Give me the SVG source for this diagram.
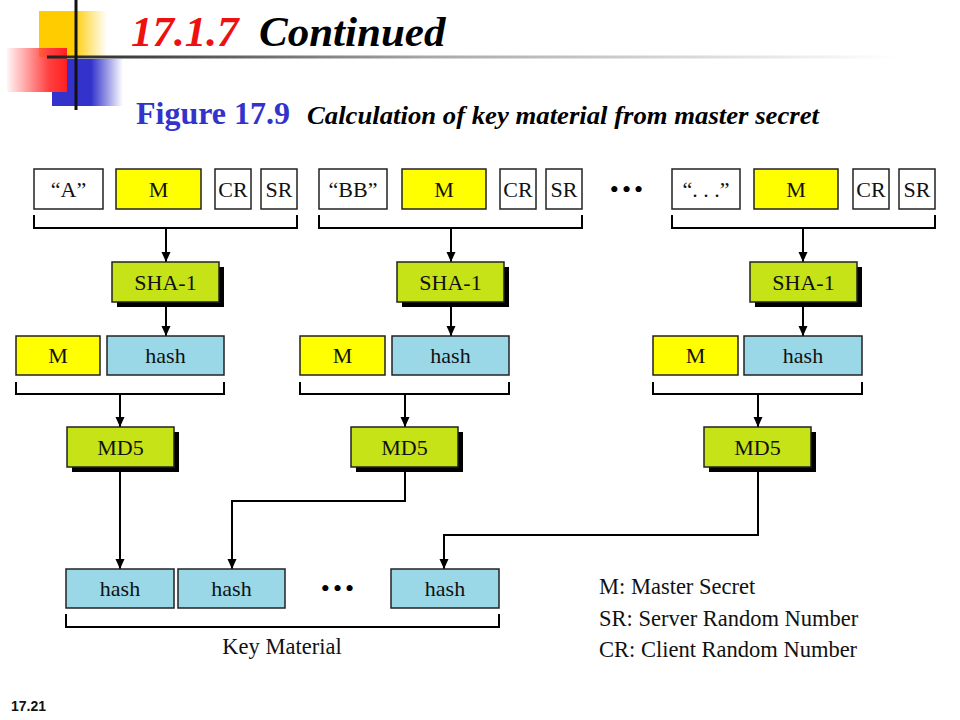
<svg xmlns="http://www.w3.org/2000/svg" width="960" height="720" viewBox="0 0 960 720">
<defs>
<linearGradient id="gY" x1="0" y1="0" x2="1" y2="0"><stop offset="0" stop-color="#FFCC00"/><stop offset="0.5" stop-color="#FFCC00"/><stop offset="1" stop-color="#FFCC00" stop-opacity="0"/></linearGradient>
<linearGradient id="gR" x1="1" y1="0" x2="0" y2="0"><stop offset="0" stop-color="#FF2020"/><stop offset="0.3" stop-color="#FF4040"/><stop offset="1" stop-color="#FF4040" stop-opacity="0.05"/></linearGradient>
<linearGradient id="gB" x1="0" y1="0" x2="1" y2="0"><stop offset="0" stop-color="#3333CC"/><stop offset="0.55" stop-color="#3333CC"/><stop offset="1" stop-color="#3333CC" stop-opacity="0"/></linearGradient>
<linearGradient id="gL" x1="0" y1="0" x2="1" y2="0"><stop offset="0" stop-color="#222"/><stop offset="0.45" stop-color="#A8A8A8"/><stop offset="1" stop-color="#FFFFFF"/></linearGradient>
<marker id="ah" viewBox="0 0 10 10" refX="10" refY="5" markerWidth="10" markerHeight="10" markerUnits="userSpaceOnUse" orient="auto"><path d="M0,0.5 L10,5 L0,9.5 z" fill="#000"/></marker>
</defs>
<style>
.t{font-family:"Liberation Serif","Times New Roman",serif;font-size:22px;fill:#111;text-anchor:middle}
.w{fill:#fff;stroke:#222;stroke-width:1.5}
.y{fill:#FFFF00;stroke:#222;stroke-width:1.5}
.h{fill:#9AD8E8;stroke:#222;stroke-width:1.5}
.g{fill:#C6E318;stroke:#222;stroke-width:1.5}
.s{fill:#000}
.c{fill:none;stroke:#000;stroke-width:2}
.a{fill:none;stroke:#000;stroke-width:2;marker-end:url(#ah)}
.lg{font-family:"Liberation Serif","Times New Roman",serif;font-size:22.5px;fill:#111}
.dots{font-family:"Liberation Serif",serif;font-size:26px;fill:#000;letter-spacing:3px;text-anchor:middle}
</style>
<rect width="960" height="720" fill="#fff"/>
<g id="logo">
<rect x="39" y="11" width="68" height="46" fill="url(#gY)"/>
<rect x="52" y="59" width="71" height="47" fill="url(#gB)"/>
<rect x="7" y="48" width="60" height="44" fill="url(#gR)"/>
<rect x="47" y="55.5" width="850" height="3" fill="url(#gL)"/>
<rect x="74.5" y="0" width="3" height="110" fill="#111"/>
</g>
<g id="title">
<text x="131" y="46" font-family="Liberation Serif,serif" font-size="43" font-weight="bold" font-style="italic"><tspan fill="#EE1111">17.1.7</tspan><tspan fill="#000" x="259">Continued</tspan></text>
<text x="136" y="124" font-family="Liberation Serif,serif" font-size="32" font-weight="bold" fill="#3333CC" textLength="154" lengthAdjust="spacingAndGlyphs">Figure 17.9</text>
<text x="307" y="124" font-family="Liberation Serif,serif" font-size="25" font-weight="bold" font-style="italic" fill="#000" textLength="512" lengthAdjust="spacingAndGlyphs">Calculation of key material from master secret</text>
</g>
<g id="connectors">
<path class="c" d="M34,215 V228 H297 V215"/>
<path class="c" d="M319,215 V228 H582 V215"/>
<path class="c" d="M672,215 V228 H935 V215"/>
<path class="a" d="M166,228 V262"/>
<path class="a" d="M451,228 V262"/>
<path class="a" d="M803,228 V262"/>
<path class="a" d="M166,306 V336"/>
<path class="a" d="M451,306 V336"/>
<path class="a" d="M803,306 V336"/>
<path class="c" d="M16,382 V394 H224 V382"/>
<path class="c" d="M300,382 V394 H509 V382"/>
<path class="c" d="M653,382 V394 H862 V382"/>
<path class="a" d="M120,394 V427"/>
<path class="a" d="M405,394 V427"/>
<path class="a" d="M758,394 V427"/>
<path class="a" d="M120,470 V569"/>
<path class="a" d="M405,470 V501 H232 V569"/>
<path class="a" d="M758,470 V535 H444 V569"/>
<path class="c" d="M66,614 V627 H499 V614"/>
</g>
<g id="in1"><rect class="w" x="34" y="169" width="69" height="40"/><text class="t" x="68.5" y="197">“A”</text></g>
<g id="m1"><rect class="y" x="116" y="169" width="85" height="40"/><text class="t" x="158.5" y="197">M</text></g>
<g id="cr1"><rect class="w" x="215" y="169" width="36" height="40"/><text class="t" x="233" y="197">CR</text></g>
<g id="sr1"><rect class="w" x="261" y="169" width="36" height="40"/><text class="t" x="279" y="197">SR</text></g>
<g id="in2"><rect class="w" x="319" y="169" width="68" height="40"/><text class="t" x="353" y="197">“BB”</text></g>
<g id="m2"><rect class="y" x="402" y="169" width="84" height="40"/><text class="t" x="444" y="197">M</text></g>
<g id="cr2"><rect class="w" x="500" y="169" width="36" height="40"/><text class="t" x="518" y="197">CR</text></g>
<g id="sr2"><rect class="w" x="546" y="169" width="36" height="40"/><text class="t" x="564" y="197">SR</text></g>
<g id="dots1"><text class="dots" x="628" y="198">•••</text></g>
<g id="in3"><rect class="w" x="672" y="169" width="68" height="40"/><text class="t" x="706" y="197">“. . .”</text></g>
<g id="m3"><rect class="y" x="754" y="169" width="84" height="40"/><text class="t" x="796" y="197">M</text></g>
<g id="cr3"><rect class="w" x="853" y="169" width="36" height="40"/><text class="t" x="871" y="197">CR</text></g>
<g id="sr3"><rect class="w" x="899" y="169" width="36" height="40"/><text class="t" x="917" y="197">SR</text></g>
<g id="sha1"><rect class="s" x="117" y="267" width="107" height="40"/><rect class="g" x="112" y="262" width="107" height="40"/><text class="t" x="165.5" y="290">SHA-1</text></g>
<g id="sha2"><rect class="s" x="402" y="267" width="107" height="40"/><rect class="g" x="397" y="262" width="107" height="40"/><text class="t" x="450.5" y="290">SHA-1</text></g>
<g id="sha3"><rect class="s" x="755" y="267" width="107" height="40"/><rect class="g" x="750" y="262" width="107" height="40"/><text class="t" x="803.5" y="290">SHA-1</text></g>
<g id="mb1"><rect class="y" x="16" y="336" width="84" height="39"/><text class="t" x="58" y="363">M</text></g>
<g id="hb1"><rect class="h" x="107" y="336" width="117" height="39"/><text class="t" x="165.5" y="363">hash</text></g>
<g id="mb2"><rect class="y" x="300" y="336" width="85" height="39"/><text class="t" x="342.5" y="363">M</text></g>
<g id="hb2"><rect class="h" x="392" y="336" width="117" height="39"/><text class="t" x="450.5" y="363">hash</text></g>
<g id="mb3"><rect class="y" x="653" y="336" width="85" height="39"/><text class="t" x="695.5" y="363">M</text></g>
<g id="hb3"><rect class="h" x="744" y="336" width="118" height="39"/><text class="t" x="803" y="363">hash</text></g>
<g id="md51"><rect class="s" x="72" y="432" width="107" height="40"/><rect class="g" x="67" y="427" width="107" height="40"/><text class="t" x="120.5" y="455">MD5</text></g>
<g id="md52"><rect class="s" x="356" y="432" width="107" height="40"/><rect class="g" x="351" y="427" width="107" height="40"/><text class="t" x="404.5" y="455">MD5</text></g>
<g id="md53"><rect class="s" x="709" y="432" width="107" height="40"/><rect class="g" x="704" y="427" width="107" height="40"/><text class="t" x="757.5" y="455">MD5</text></g>
<g id="k1"><rect class="h" x="66" y="569" width="108" height="39"/><text class="t" x="120" y="596">hash</text></g>
<g id="k2"><rect class="h" x="178" y="569" width="107" height="39"/><text class="t" x="231.5" y="596">hash</text></g>
<g id="dots2"><text class="dots" x="339" y="597">•••</text></g>
<g id="k3"><rect class="h" x="391" y="569" width="108" height="39"/><text class="t" x="445" y="596">hash</text></g>
<g id="keymat"><text class="lg" x="282" y="654" text-anchor="middle">Key Material</text></g>
<g id="legend">
<text class="lg" x="599" y="594">M: Master Secret</text>
<text class="lg" x="599" y="626">SR: Server Random Number</text>
<text class="lg" x="599" y="657">CR: Client Random Number</text>
</g>
<g id="pagenum"><text x="11" y="711" font-family="Liberation Sans,Arial,sans-serif" font-size="14" font-weight="bold" fill="#111">17.21</text></g>
</svg>
